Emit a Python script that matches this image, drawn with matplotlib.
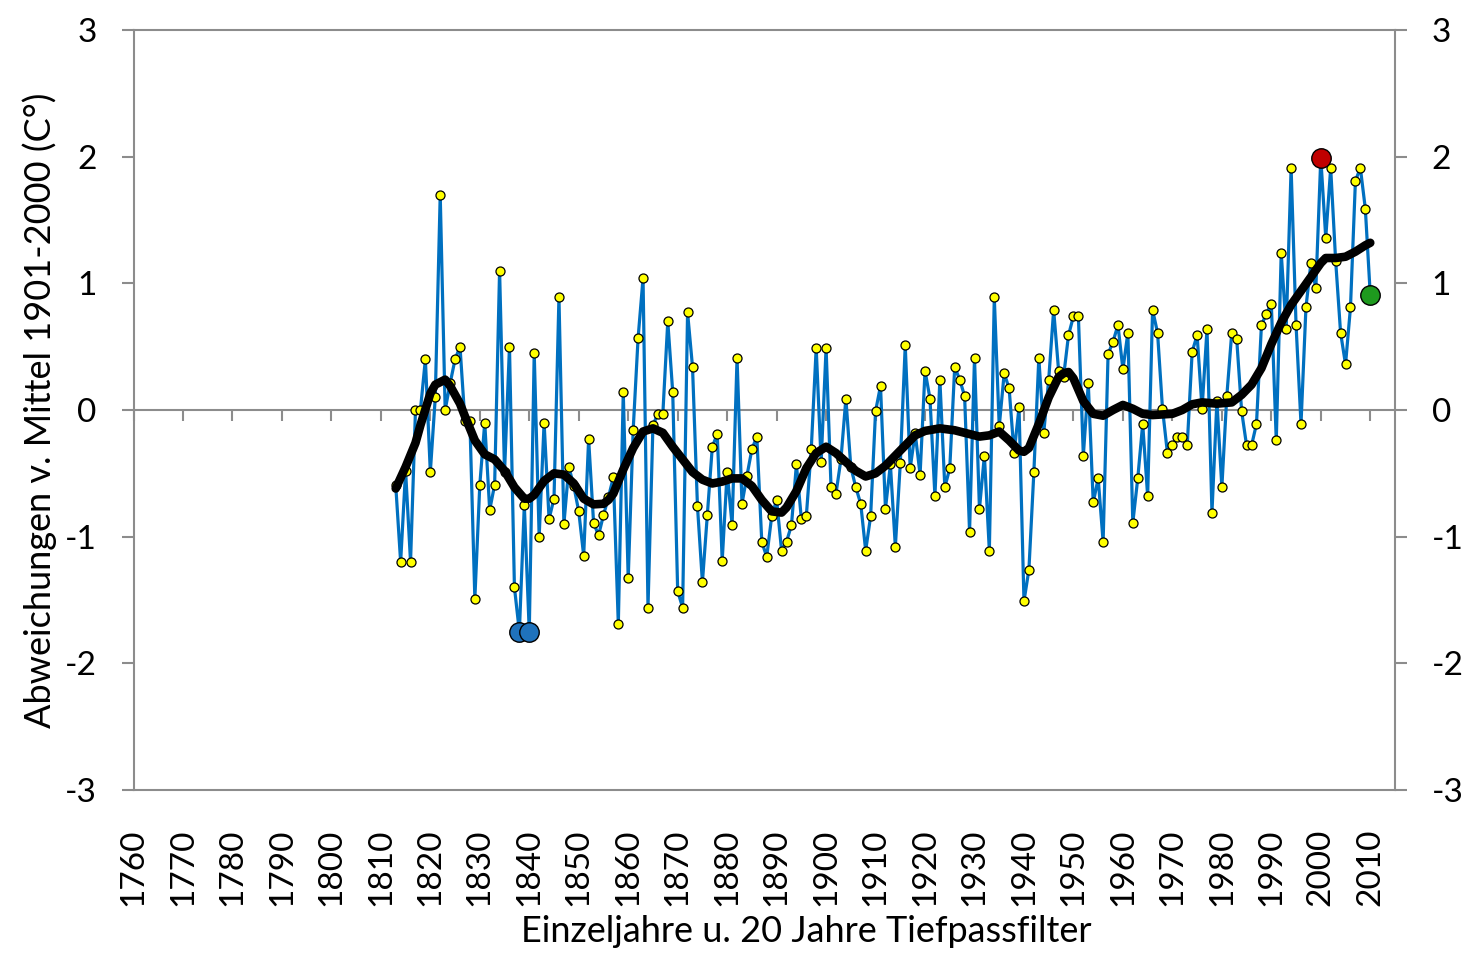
import matplotlib
matplotlib.use("Agg")
import matplotlib.pyplot as plt
import numpy as np

plt.rcParams['font.family'] = ['Lato', 'DejaVu Sans']

# ---- data -------------------------------------------------------------
years = list(range(1813, 2011))
anomalies = [
    -0.59, -1.20, -0.48, -1.20, 0.00, 0.00, 0.40, -0.49, 0.10, 1.70,      # 1813-1822
    0.00, 0.21, 0.40, 0.50, -0.09, -0.09, -1.49, -0.59, -0.10, -0.79,     # 1823-1832
    -0.59, 1.10, -0.49, 0.50, -1.40, -1.75, -0.75, -1.75, 0.45, -1.00,    # 1833-1842
    -0.10, -0.86, -0.70, 0.89, -0.90, -0.45, -0.60, -0.80, -1.15, -0.23,  # 1843-1852
    -0.89, -0.99, -0.83, -0.69, -0.53, -1.69, 0.14, -1.33, -0.16, 0.57,   # 1853-1862
    1.04, -1.56, -0.12, -0.03, -0.03, 0.70, 0.14, -1.43, -1.56, 0.77,     # 1863-1872
    0.34, -0.76, -1.36, -0.83, -0.29, -0.19, -1.19, -0.49, -0.91, 0.41,   # 1873-1882
    -0.74, -0.52, -0.31, -0.21, -1.04, -1.16, -0.84, -0.71, -1.11, -1.04, # 1883-1892
    -0.91, -0.43, -0.86, -0.84, -0.31, 0.49, -0.41, 0.49, -0.61, -0.66,   # 1893-1902
    -0.39, 0.09, -0.45, -0.61, -0.74, -1.11, -0.84, -0.01, 0.19, -0.78,   # 1903-1912
    -0.43, -1.08, -0.42, 0.51, -0.46, -0.18, -0.51, 0.31, 0.09, -0.68,    # 1913-1922
    0.24, -0.61, -0.46, 0.34, 0.24, 0.11, -0.96, 0.41, -0.78, -0.36,      # 1923-1932
    -1.11, 0.89, -0.13, 0.29, 0.17, -0.34, 0.02, -1.51, -1.26, -0.49,     # 1933-1942
    0.41, -0.18, 0.24, 0.79, 0.31, 0.26, 0.59, 0.74, 0.74, -0.36,         # 1943-1952
    0.21, -0.73, -0.54, -1.04, 0.44, 0.54, 0.67, 0.32, 0.61, -0.89,       # 1953-1962
    -0.54, -0.11, -0.68, 0.79, 0.61, 0.01, -0.34, -0.28, -0.21, -0.21,    # 1963-1972
    -0.28, 0.46, 0.59, 0.01, 0.64, -0.81, 0.07, -0.61, 0.11, 0.61,        # 1973-1982
    0.56, -0.01, -0.28, -0.28, -0.11, 0.67, 0.76, 0.84, -0.24, 1.24,      # 1983-1992
    0.64, 1.91, 0.67, -0.11, 0.81, 1.16, 0.96, 1.99, 1.36, 1.91,          # 1993-2002
    1.18, 0.61, 0.36, 0.81, 1.81, 1.91, 1.59, 0.91,                       # 2003-2010
]

# 20-year low-pass filter curve
filter_years = [1813, 1815, 1817, 1818, 1820, 1821, 1823, 1824, 1826, 1827,
                1829, 1831, 1833, 1835, 1837, 1839, 1840, 1841, 1843, 1845,
                1847, 1849, 1851, 1853, 1855, 1856, 1857, 1859, 1861, 1863,
                1865, 1867, 1869, 1871, 1873, 1875, 1877, 1879, 1881, 1883,
                1885, 1887, 1889, 1891, 1892, 1894, 1896, 1898, 1900, 1902,
                1904, 1906, 1908, 1910, 1912, 1914, 1916, 1918, 1920, 1923,
                1926, 1929, 1931, 1933, 1935, 1937, 1939, 1940, 1941, 1943,
                1945, 1947, 1948, 1949, 1950, 1952, 1954, 1956, 1958, 1960,
                1962, 1964, 1966, 1970, 1972, 1974, 1976, 1979, 1982, 1984,
                1986, 1988, 1990, 1992, 1994, 1996, 1998, 2000, 2001, 2003,
                2005, 2007, 2009, 2010]
filter_values = [-0.62, -0.45, -0.26, -0.12, 0.13, 0.20, 0.24, 0.19, 0.05, -0.05,
                 -0.24, -0.35, -0.39, -0.48, -0.61, -0.70, -0.70, -0.67, -0.56, -0.50,
                 -0.51, -0.58, -0.70, -0.745, -0.74, -0.71, -0.66, -0.47, -0.30, -0.17,
                 -0.145, -0.18, -0.29, -0.39, -0.49, -0.55, -0.58, -0.565, -0.54, -0.54,
                 -0.60, -0.71, -0.80, -0.81, -0.77, -0.64, -0.46, -0.34, -0.29, -0.34,
                 -0.41, -0.48, -0.525, -0.50, -0.44, -0.36, -0.28, -0.20, -0.165, -0.145,
                 -0.16, -0.19, -0.21, -0.20, -0.17, -0.24, -0.32, -0.33, -0.30, -0.11,
                 0.10, 0.26, 0.29, 0.30, 0.25, 0.07, -0.03, -0.045, 0.0, 0.04,
                 0.01, -0.03, -0.04, -0.03, 0.0, 0.045, 0.06, 0.05, 0.06, 0.12,
                 0.20, 0.33, 0.52, 0.69, 0.83, 0.94, 1.05, 1.16, 1.20, 1.20,
                 1.21, 1.25, 1.30, 1.32]

# highlighted years
cold_years = [1838, 1840]
warm_year = [2000]
last_year = [2010]

x_ticks = list(range(1760, 2011, 10))
y_ticks = [-3, -2, -1, 0, 1, 2, 3]
y_label = "Abweichungen v. Mittel 1901-2000 (C°)"
x_label = "Einzeljahre u. 20 Jahre Tiefpassfilter"

# ---- plot -------------------------------------------------------------
GRAY = "#8c8c8c"
fig = plt.figure(figsize=(14.7, 9.69), dpi=100)
ax = fig.add_axes([133.5 / 1470, 1 - 790 / 969, (1395 - 133.5) / 1470, 760 / 969])

ax.set_xlim(1760, 2015)
ax.set_ylim(-3, 3)

ax.plot(years, anomalies, color="#0070C0", lw=2.3, zorder=2)
ax.plot(years, anomalies, ls="none", marker="o", ms=6.5, mfc="#FFFF00",
        mec="black", mew=0.9, zorder=3)
ax.plot(filter_years, filter_values, color="black", lw=6.2,
        solid_joinstyle="round", solid_capstyle="round", zorder=4)

val = dict(zip(years, anomalies))
ax.plot(cold_years, [val[y] for y in cold_years], ls="none", marker="o",
        ms=14, mfc="#1F72BC", mec="black", mew=1.0, zorder=5)
ax.plot(warm_year, [val[y] for y in warm_year], ls="none", marker="o",
        ms=14, mfc="#C00000", mec="black", mew=1.0, zorder=5)
ax.plot(last_year, [val[y] for y in last_year], ls="none", marker="o",
        ms=14, mfc="#1E9A1E", mec="black", mew=1.0, zorder=5)

for s in ax.spines.values():
    s.set_color(GRAY)
    s.set_linewidth(1.5)

ax.set_xticks(x_ticks)
ax.set_xticklabels([str(t) for t in x_ticks], rotation=90, fontsize=24)
ax.tick_params(axis="x", length=0, pad=28)

ax.set_yticks(y_ticks)
ax.set_yticklabels([str(t) for t in y_ticks], fontsize=24)
ax.tick_params(axis="y", which="both", direction="out", length=8.5, width=1.5,
               color=GRAY, pad=18, left=True, right=True,
               labelleft=True, labelright=True)

# zero line acting as category axis with downward tick marks
sec = ax.secondary_xaxis(0.5)
sec.set_xticks(x_ticks)
sec.set_xticklabels([])
sec.tick_params(axis="x", direction="in", length=8, width=1.5, color=GRAY)
for s in sec.spines.values():
    s.set_color(GRAY)
    s.set_linewidth(1.5)

fig.text(40 / 1470, 1 - 410 / 969, y_label, rotation=90, fontsize=26,
         ha="center", va="center")
fig.text(806 / 1470, 1 - 932 / 969, x_label, fontsize=26,
         ha="center", va="center")

fig.savefig("out.png", dpi=100)
